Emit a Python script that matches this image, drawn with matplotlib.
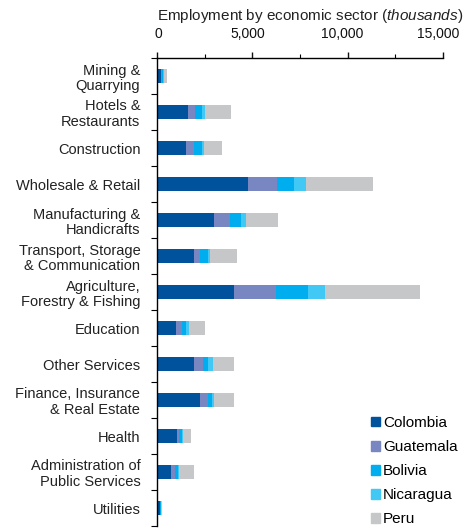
#!/usr/bin/env python3
#
# Stacked horizontal bars: employment by economic sector, five countries.
#

import matplotlib
matplotlib.use('Agg')
import matplotlib.pyplot as plt
import matplotlib.ticker as ticker
import matplotlib.transforms as mtransforms
from matplotlib.patches import Patch
import numpy as np

sectors = ['Mining &\nQuarrying', 'Hotels &\nRestaurants', 'Construction',
           'Wholesale & Retail', 'Manufacturing &\nHandicrafts',
           'Transport, Storage\n& Communication',
           'Agriculture,\nForestry & Fishing', 'Education', 'Other Services',
           'Finance, Insurance\n& Real Estate', 'Health',
           'Administration of\nPublic Services', 'Utilities']

countries = ['Colombia', 'Guatemala', 'Bolivia', 'Nicaragua', 'Peru']

# thousands of people, one value per sector (top to bottom)
colombia = [210, 1630, 1520, 4790, 2970, 1940, 4020, 1000, 1960, 2250, 1050,
            730, 160]
guatemala = [40, 380, 420, 1480, 880, 310, 2240, 310, 470, 410, 120, 230, 20]
bolivia = [50, 350, 420, 910, 550, 420, 1660, 210, 260, 220, 130, 140, 30]
nicaragua = [50, 160, 100, 630, 280, 110, 890, 160, 260, 90, 80, 70, 20]
peru = [190, 1380, 950, 3530, 1650, 1400, 4980, 850, 1100, 1050, 400, 750, 10]

colors = ['#00529c', '#7886c1', '#00aeef', '#42c8f4', '#c6c7c9']

plt.rcParams['font.family'] = ['Liberation Sans', 'DejaVu Sans']
plt.rcParams['mathtext.fontset'] = 'custom'
plt.rcParams['mathtext.it'] = 'Liberation Sans:italic'
plt.rcParams['mathtext.rm'] = 'Liberation Sans'

fig = plt.figure(figsize=(4.64, 5.29), dpi=100)
ax = fig.add_axes([157 / 464, 1 - 526 / 529, 286 / 464, 468 / 529])

y_pos = np.arange(len(sectors))
left = np.zeros(len(sectors))
for series, color in zip([colombia, guatemala, bolivia, nicaragua, peru],
                         colors):
    ax.barh(y_pos, series, 0.4, left=left, color=color, linewidth=0)
    left += np.array(series)

ax.set_xlim(0, 15000)
ax.set_ylim(len(sectors) - 0.5, -0.5)

ax.xaxis.tick_top()
ax.set_xticks([0, 5000, 10000, 15000])
ax.set_xticklabels(['{:,}'.format(v) for v in [0, 5000, 10000, 15000]])
ax.xaxis.set_minor_locator(ticker.MultipleLocator(2500))
ax.tick_params(axis='x', which='major', direction='out', length=4, width=1,
               pad=8, labelsize=10, colors='#111111')
ax.tick_params(axis='x', which='minor', direction='out', length=3, width=0.8)

# the source labels sit a little left of their ticks
for i, tick in enumerate(ax.xaxis.get_major_ticks()):
    dx = 1 if i == 0 else -5
    shift = mtransforms.ScaledTranslation(dx / 100, 0, fig.dpi_scale_trans)
    tick.label2.set_transform(tick.label2.get_transform() + shift)

# category boundaries as ticks, names in the middle of each band
ax.set_yticks(np.arange(len(sectors) + 1) - 0.5)
ax.set_yticklabels([])
ax.set_yticks(y_pos, minor=True)
ax.set_yticklabels(sectors, minor=True, fontsize=10.5, color='#222222',
                   ha='right', linespacing=1.15)
ax.tick_params(axis='y', which='major', direction='out', length=4, width=0.8)
ax.tick_params(axis='y', which='minor', length=0, pad=12)

for side in ['right', 'bottom']:
    ax.spines[side].set_visible(False)
ax.spines['top'].set_linewidth(1)
ax.spines['left'].set_linewidth(1)

fig.text(157 / 464, 1 - 20 / 529,
         r'Employment by economic sector $\it{(thousands)}$',
         fontsize=11, color='#222222', ha='left', va='baseline')

handles = [Patch(color=c) for c in colors]
fig.legend(handles, countries, loc='upper left',
           bbox_to_anchor=(371 / 464, 1 - 416 / 529), frameon=False,
           fontsize=11, handlelength=0.6, handleheight=0.6,
           handletextpad=0.2, labelspacing=0.66, borderaxespad=0,
           borderpad=0)

plt.savefig('out.png', dpi=100)
plt.close('all')
